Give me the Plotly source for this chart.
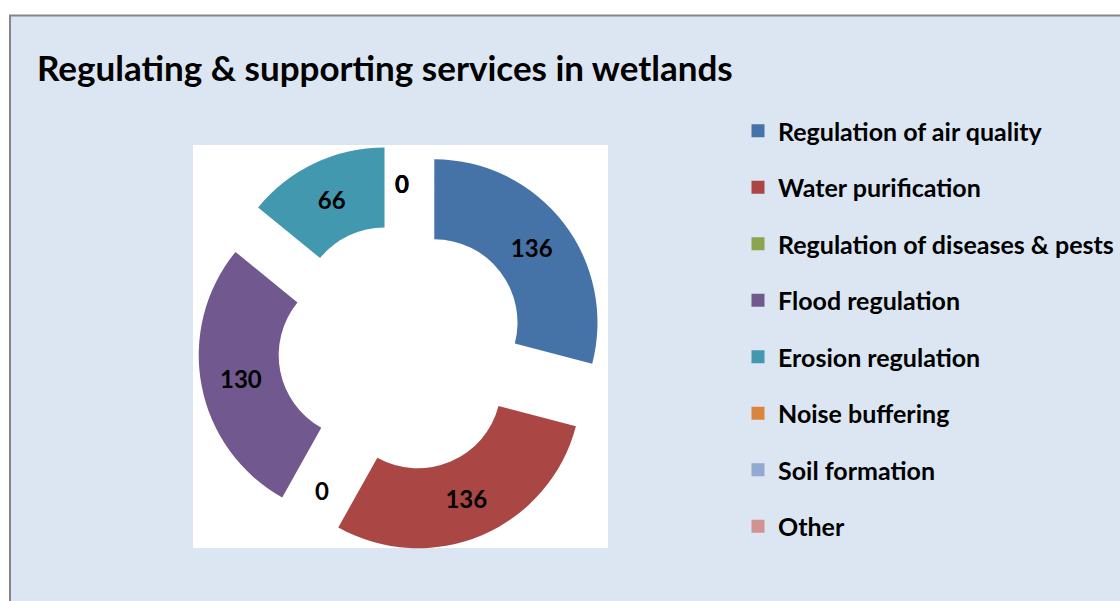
import math
import plotly.graph_objects as go

# Service categories and the number of mentions for each
categories = [
    "Regulation of air quality",
    "Water purification",
    "Regulation of diseases & pests",
    "Flood regulation",
    "Erosion regulation",
    "Noise buffering",
    "Soil formation",
    "Other",
]
counts = [136, 136, 0, 130, 66, 0, 0, 0]
colors = ["#4572A7", "#AA4643", "#89A54E", "#71588F",
          "#4198AF", "#DB843D", "#93A9CF", "#D19392"]

W, H = 1120, 601
FONT = "Lato"

HOLE = 0.51
PULL = 0.25

# pie domain in pixels (square) -> paper fractions
dom_px = dict(x0=198, x1=606, y0=143.5, y1=551.5)
dom_x = [dom_px["x0"] / W, dom_px["x1"] / W]
dom_y = [1 - dom_px["y1"] / H, 1 - dom_px["y0"] / H]

fig = go.Figure()

fig.add_trace(go.Pie(
    labels=categories,
    values=counts,
    text=[str(v) if v else "" for v in counts],
    texttemplate="%{text}",
    textinfo="text",
    textposition="inside",
    insidetextorientation="horizontal",
    textfont=dict(family=FONT, size=24, color="black", weight="bold"),
    marker=dict(colors=colors, line=dict(width=0)),
    hole=HOLE,
    pull=[PULL] * len(counts),
    sort=False,
    direction="clockwise",
    rotation=0,
    domain=dict(x=dom_x, y=dom_y),
    showlegend=False,
    hoverinfo="label+value",
))

# labels for zero-sized slices, placed where the slice sits on the ring
total = sum(counts)
cx = (dom_px["x0"] + dom_px["x1"]) / 2
cy = (dom_px["y0"] + dom_px["y1"]) / 2
R = (dom_px["x1"] - dom_px["x0"]) / 2 / (1 + PULL)
rho = R * (PULL + (1 + HOLE) / 2)
cum = 0
for v in counts:
    if v == 0:
        theta = 2 * math.pi * cum / total
        px = cx + rho * math.sin(theta)
        py = cy - rho * math.cos(theta)
        fig.add_annotation(
            x=px / W, y=1 - py / H, xref="paper", yref="paper",
            xanchor="center", yanchor="middle",
            text=str(v), showarrow=False,
            font=dict(family=FONT, size=24, color="black", weight="bold"),
        )
    cum += v

# legend entries, one group each so the gap spaces them out
for name, col in zip(categories, colors):
    fig.add_trace(go.Scatter(
        x=[None], y=[None], mode="markers",
        marker=dict(symbol="square", size=13, color=col),
        name=name, legendgroup=name, showlegend=True,
        hoverinfo="skip",
    ))

# chart area background with grey frame, and white plot area
fig.add_shape(type="rect", xref="paper", yref="paper",
              x0=10 / W, x1=1.05, y0=-0.05, y1=1 - 15.5 / H,
              fillcolor="#DCE6F2", line=dict(color="#868686", width=2),
              layer="below")
fig.add_shape(type="rect", xref="paper", yref="paper",
              x0=193 / W, x1=608 / W, y0=1 - 548 / H, y1=1 - 145 / H,
              fillcolor="white", line=dict(width=0), layer="below")

fig.update_layout(
    width=W, height=H,
    margin=dict(l=0, r=0, t=0, b=0),
    paper_bgcolor="white",
    plot_bgcolor="rgba(0,0,0,0)",
    xaxis=dict(visible=False),
    yaxis=dict(visible=False),
    title=dict(
        text="<b>Regulating & supporting services in wetlands</b>",
        font=dict(family=FONT, size=35, color="black"),
        x=37 / W, xanchor="left", xref="paper",
        y=1 - 69 / H, yanchor="middle", yref="paper",
    ),
    legend=dict(
        x=738 / W, xanchor="left",
        y=1 - 108 / H, yanchor="top",
        bgcolor="rgba(0,0,0,0)",
        font=dict(family=FONT, size=25, color="black", weight="bold"),
        tracegroupgap=21,
        itemclick=False, itemdoubleclick=False,
    ),
)

fig.write_html("out.html")
